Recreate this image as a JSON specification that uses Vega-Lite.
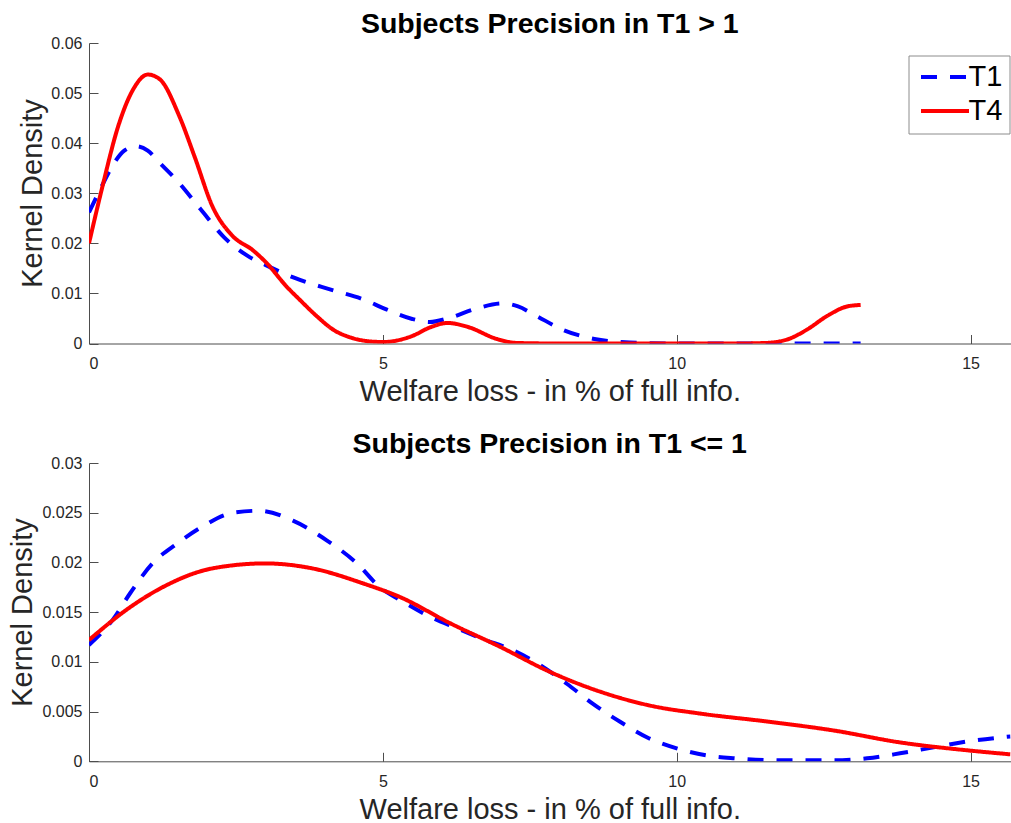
{
  "$schema": "https://vega.github.io/schema/vega-lite/v6.json",
  "autosize": {"type": "pad"},
  "padding": {"left": 7, "top": 9, "right": 0, "bottom": 0},
  "background": "white",
  "config": {
    "view": {"stroke": null},
    "font": "Liberation Sans",
    "style": {"guide-label": {"fontSize": 16, "font": "Liberation Sans", "fill": "#262626"}},
    "axis": {
      "grid": false,
      "domainColor": "#4d4d4d",
      "domainWidth": 1,
      "tickColor": "#4d4d4d",
      "tickSize": -9,
      "labelFont": "Liberation Sans",
      "labelFontSize": 16,
      "labelColor": "#262626",
      "titleFont": "Liberation Sans",
      "titleFontSize": 29,
      "titleFontWeight": "normal",
      "titleColor": "#262626"
    },
    "title": {
      "font": "Liberation Sans",
      "fontSize": 28.5,
      "fontWeight": "bold",
      "color": "#000000",
      "anchor": "middle",
      "frame": "group",
      "baseline": "alphabetic",
      "offset": -3
    }
  },
  "datasets": {
    "top": [
      {"x": 0, "y": 0.0262, "s": "T1"},
      {"x": 0.2, "y": 0.031, "s": "T1"},
      {"x": 0.4, "y": 0.0355, "s": "T1"},
      {"x": 0.6, "y": 0.0385, "s": "T1"},
      {"x": 0.8, "y": 0.0394, "s": "T1"},
      {"x": 1.0, "y": 0.0385, "s": "T1"},
      {"x": 1.2, "y": 0.0361, "s": "T1"},
      {"x": 1.5, "y": 0.0325, "s": "T1"},
      {"x": 1.9, "y": 0.0268, "s": "T1"},
      {"x": 2.3, "y": 0.0212, "s": "T1"},
      {"x": 2.7, "y": 0.0175, "s": "T1"},
      {"x": 3.0, "y": 0.0157, "s": "T1"},
      {"x": 3.5, "y": 0.0131, "s": "T1"},
      {"x": 4.1, "y": 0.0108, "s": "T1"},
      {"x": 4.67, "y": 0.0088, "s": "T1"},
      {"x": 5.06, "y": 0.0068, "s": "T1"},
      {"x": 5.5, "y": 0.0049, "s": "T1"},
      {"x": 5.8, "y": 0.0043, "s": "T1"},
      {"x": 6.1, "y": 0.005, "s": "T1"},
      {"x": 6.6, "y": 0.007, "s": "T1"},
      {"x": 7.05, "y": 0.008, "s": "T1"},
      {"x": 7.3, "y": 0.0074, "s": "T1"},
      {"x": 7.6, "y": 0.0056, "s": "T1"},
      {"x": 8.07, "y": 0.0027, "s": "T1"},
      {"x": 8.6, "y": 0.0009, "s": "T1"},
      {"x": 9.2, "y": 0.0002, "s": "T1"},
      {"x": 10, "y": 0, "s": "T1"},
      {"x": 11, "y": 0, "s": "T1"},
      {"x": 12, "y": 0, "s": "T1"},
      {"x": 13.13, "y": 0, "s": "T1"},
      {"x": 0, "y": 0.02, "s": "T4"},
      {"x": 0.23, "y": 0.0314, "s": "T4"},
      {"x": 0.5, "y": 0.0435, "s": "T4"},
      {"x": 0.75, "y": 0.0507, "s": "T4"},
      {"x": 1.0, "y": 0.0537, "s": "T4"},
      {"x": 1.2, "y": 0.0528, "s": "T4"},
      {"x": 1.54, "y": 0.0453, "s": "T4"},
      {"x": 1.8, "y": 0.0372, "s": "T4"},
      {"x": 2.1, "y": 0.0274, "s": "T4"},
      {"x": 2.45, "y": 0.0214, "s": "T4"},
      {"x": 2.78, "y": 0.0187, "s": "T4"},
      {"x": 3.02, "y": 0.0161, "s": "T4"},
      {"x": 3.36, "y": 0.0114, "s": "T4"},
      {"x": 3.58, "y": 0.0088, "s": "T4"},
      {"x": 3.9, "y": 0.0052, "s": "T4"},
      {"x": 4.15, "y": 0.0028, "s": "T4"},
      {"x": 4.45, "y": 0.0012, "s": "T4"},
      {"x": 4.72, "y": 0.0005, "s": "T4"},
      {"x": 5.0, "y": 0.0003, "s": "T4"},
      {"x": 5.5, "y": 0.0015, "s": "T4"},
      {"x": 5.8, "y": 0.0032, "s": "T4"},
      {"x": 6.1, "y": 0.0041, "s": "T4"},
      {"x": 6.45, "y": 0.0033, "s": "T4"},
      {"x": 6.94, "y": 0.0009, "s": "T4"},
      {"x": 7.3, "y": 0.0001, "s": "T4"},
      {"x": 8, "y": 0, "s": "T4"},
      {"x": 9, "y": 0, "s": "T4"},
      {"x": 10, "y": 0, "s": "T4"},
      {"x": 11, "y": 0, "s": "T4"},
      {"x": 11.5, "y": 0.0001, "s": "T4"},
      {"x": 11.88, "y": 0.0008, "s": "T4"},
      {"x": 12.22, "y": 0.0028, "s": "T4"},
      {"x": 12.56, "y": 0.0055, "s": "T4"},
      {"x": 12.9, "y": 0.0074, "s": "T4"},
      {"x": 13.13, "y": 0.0077, "s": "T4"}
    ],
    "bottom": [
      {"x": 0, "y": 0.0117, "s": "T1"},
      {"x": 0.4, "y": 0.0142, "s": "T1"},
      {"x": 0.7, "y": 0.0169, "s": "T1"},
      {"x": 1.08, "y": 0.0199, "s": "T1"},
      {"x": 1.5, "y": 0.0219, "s": "T1"},
      {"x": 1.9, "y": 0.0235, "s": "T1"},
      {"x": 2.45, "y": 0.025, "s": "T1"},
      {"x": 2.9, "y": 0.0252, "s": "T1"},
      {"x": 3.47, "y": 0.0242, "s": "T1"},
      {"x": 4.05, "y": 0.0222, "s": "T1"},
      {"x": 4.56, "y": 0.0199, "s": "T1"},
      {"x": 4.95, "y": 0.0175, "s": "T1"},
      {"x": 5.3, "y": 0.0162, "s": "T1"},
      {"x": 5.75, "y": 0.0147, "s": "T1"},
      {"x": 6.25, "y": 0.0134, "s": "T1"},
      {"x": 6.7, "y": 0.0123, "s": "T1"},
      {"x": 7.2, "y": 0.0112, "s": "T1"},
      {"x": 7.67, "y": 0.0097, "s": "T1"},
      {"x": 8.13, "y": 0.0078, "s": "T1"},
      {"x": 8.57, "y": 0.0058, "s": "T1"},
      {"x": 9.03, "y": 0.004, "s": "T1"},
      {"x": 9.5, "y": 0.0024, "s": "T1"},
      {"x": 10.0, "y": 0.0013, "s": "T1"},
      {"x": 10.5, "y": 0.0006, "s": "T1"},
      {"x": 11.0, "y": 0.0003, "s": "T1"},
      {"x": 11.8, "y": 0.0001, "s": "T1"},
      {"x": 12.67, "y": 0.0001, "s": "T1"},
      {"x": 13.24, "y": 0.0003, "s": "T1"},
      {"x": 13.8, "y": 0.0008, "s": "T1"},
      {"x": 14.37, "y": 0.0014, "s": "T1"},
      {"x": 14.95, "y": 0.002, "s": "T1"},
      {"x": 15.68, "y": 0.0025, "s": "T1"},
      {"x": 0, "y": 0.0122, "s": "T4"},
      {"x": 0.7, "y": 0.0155, "s": "T4"},
      {"x": 1.25, "y": 0.0175, "s": "T4"},
      {"x": 2.1, "y": 0.0194, "s": "T4"},
      {"x": 3.0, "y": 0.0199, "s": "T4"},
      {"x": 3.8, "y": 0.0194, "s": "T4"},
      {"x": 4.66, "y": 0.0179, "s": "T4"},
      {"x": 5.3, "y": 0.0165, "s": "T4"},
      {"x": 6.14, "y": 0.0139, "s": "T4"},
      {"x": 7.0, "y": 0.0115, "s": "T4"},
      {"x": 7.84, "y": 0.009, "s": "T4"},
      {"x": 8.7, "y": 0.007, "s": "T4"},
      {"x": 9.55, "y": 0.0056, "s": "T4"},
      {"x": 10.4, "y": 0.0048, "s": "T4"},
      {"x": 11.54, "y": 0.004, "s": "T4"},
      {"x": 12.67, "y": 0.0031, "s": "T4"},
      {"x": 13.8, "y": 0.0019, "s": "T4"},
      {"x": 14.95, "y": 0.0011, "s": "T4"},
      {"x": 15.68, "y": 0.0007, "s": "T4"}
    ]
  },
  "spacing": 119,
  "bounds": "flush",
  "vconcat": [
    {
      "width": 921.5,
      "height": 300.5,
      "title": {"text": "Subjects Precision in T1 > 1"},
      "data": {"name": "top"},
      "mark": {"type": "line", "strokeWidth": 4, "interpolate": "monotone", "clip": true, "strokeCap": "butt"},
      "encoding": {
        "x": {
          "field": "x", "type": "quantitative",
          "scale": {"domain": [0, 15.68], "nice": false, "zero": false},
          "axis": {"title": "Welfare loss - in % of full info.", "values": [0, 5, 10, 15], "labelFontSize": 16, "labelPadding": 21, "titleY": 57, "titleBaseline": "alphabetic"}
        },
        "y": {
          "field": "y", "type": "quantitative",
          "scale": {"domain": [0, 0.06], "nice": false},
          "axis": {"title": "Kernel Density", "values": [0, 0.01, 0.02, 0.03, 0.04, 0.05, 0.06], "format": ".2~f", "labelFontSize": 16, "labelPadding": 16, "titleX": -48, "titleY": 150, "titleAngle": -90, "titleBaseline": "alphabetic", "titleAlign": "center"}
        },
        "color": {
          "field": "s", "type": "nominal",
          "scale": {"domain": ["T1", "T4"], "range": ["#0000ff", "#ff0000"]},
          "legend": {
            "title": null, "orient": "none", "legendX": 819.5, "legendY": 12.5,
            "direction": "vertical",
            "fillColor": "#ffffff", "strokeColor": "#8c8c8c", "padding": 7,
            "labelFont": "Liberation Sans", "labelFontSize": 29, "labelColor": "#000000", "labelOffset": 24,
            "symbolType": "M-1.125,0H4.875", "symbolSize": 256, "symbolStrokeWidth": 4, "rowPadding": 4
          }
        },
        "strokeDash": {
          "field": "s", "type": "nominal",
          "scale": {"domain": ["T1", "T4"], "range": [[16, 13], [1, 0]]},
          "legend": {
            "title": null, "orient": "none", "legendX": 819.5, "legendY": 12.5,
            "direction": "vertical",
            "fillColor": "#ffffff", "strokeColor": "#8c8c8c", "padding": 7,
            "labelFont": "Liberation Sans", "labelFontSize": 29, "labelColor": "#000000", "labelOffset": 24,
            "symbolType": "M-1.125,0H4.875", "symbolSize": 256, "symbolStrokeWidth": 4, "rowPadding": 4
          }
        }
      }
    },
    {
      "width": 921.5,
      "height": 298.3,
      "title": {"text": "Subjects Precision in T1 <= 1"},
      "data": {"name": "bottom"},
      "mark": {"type": "line", "strokeWidth": 4, "interpolate": "monotone", "clip": true, "strokeCap": "butt"},
      "encoding": {
        "x": {
          "field": "x", "type": "quantitative",
          "scale": {"domain": [0, 15.68], "nice": false, "zero": false},
          "axis": {"title": "Welfare loss - in % of full info.", "values": [0, 5, 10, 15], "labelFontSize": 16, "labelPadding": 21, "titleY": 57, "titleBaseline": "alphabetic"}
        },
        "y": {
          "field": "y", "type": "quantitative",
          "scale": {"domain": [0, 0.03], "nice": false},
          "axis": {"title": "Kernel Density", "values": [0, 0.005, 0.01, 0.015, 0.02, 0.025, 0.03], "format": ".3~f", "labelFontSize": 16, "labelPadding": 16, "titleX": -58, "titleY": 149, "titleAngle": -90, "titleBaseline": "alphabetic", "titleAlign": "center"}
        },
        "color": {
          "field": "s", "type": "nominal",
          "scale": {"domain": ["T1", "T4"], "range": ["#0000ff", "#ff0000"]},
          "legend": null
        },
        "strokeDash": {
          "field": "s", "type": "nominal",
          "scale": {"domain": ["T1", "T4"], "range": [[16, 13], [1, 0]]},
          "legend": null
        }
      }
    }
  ],
  "resolve": {"scale": {"color": "independent", "strokeDash": "independent"}, "legend": {"color": "independent", "strokeDash": "independent"}}
}
